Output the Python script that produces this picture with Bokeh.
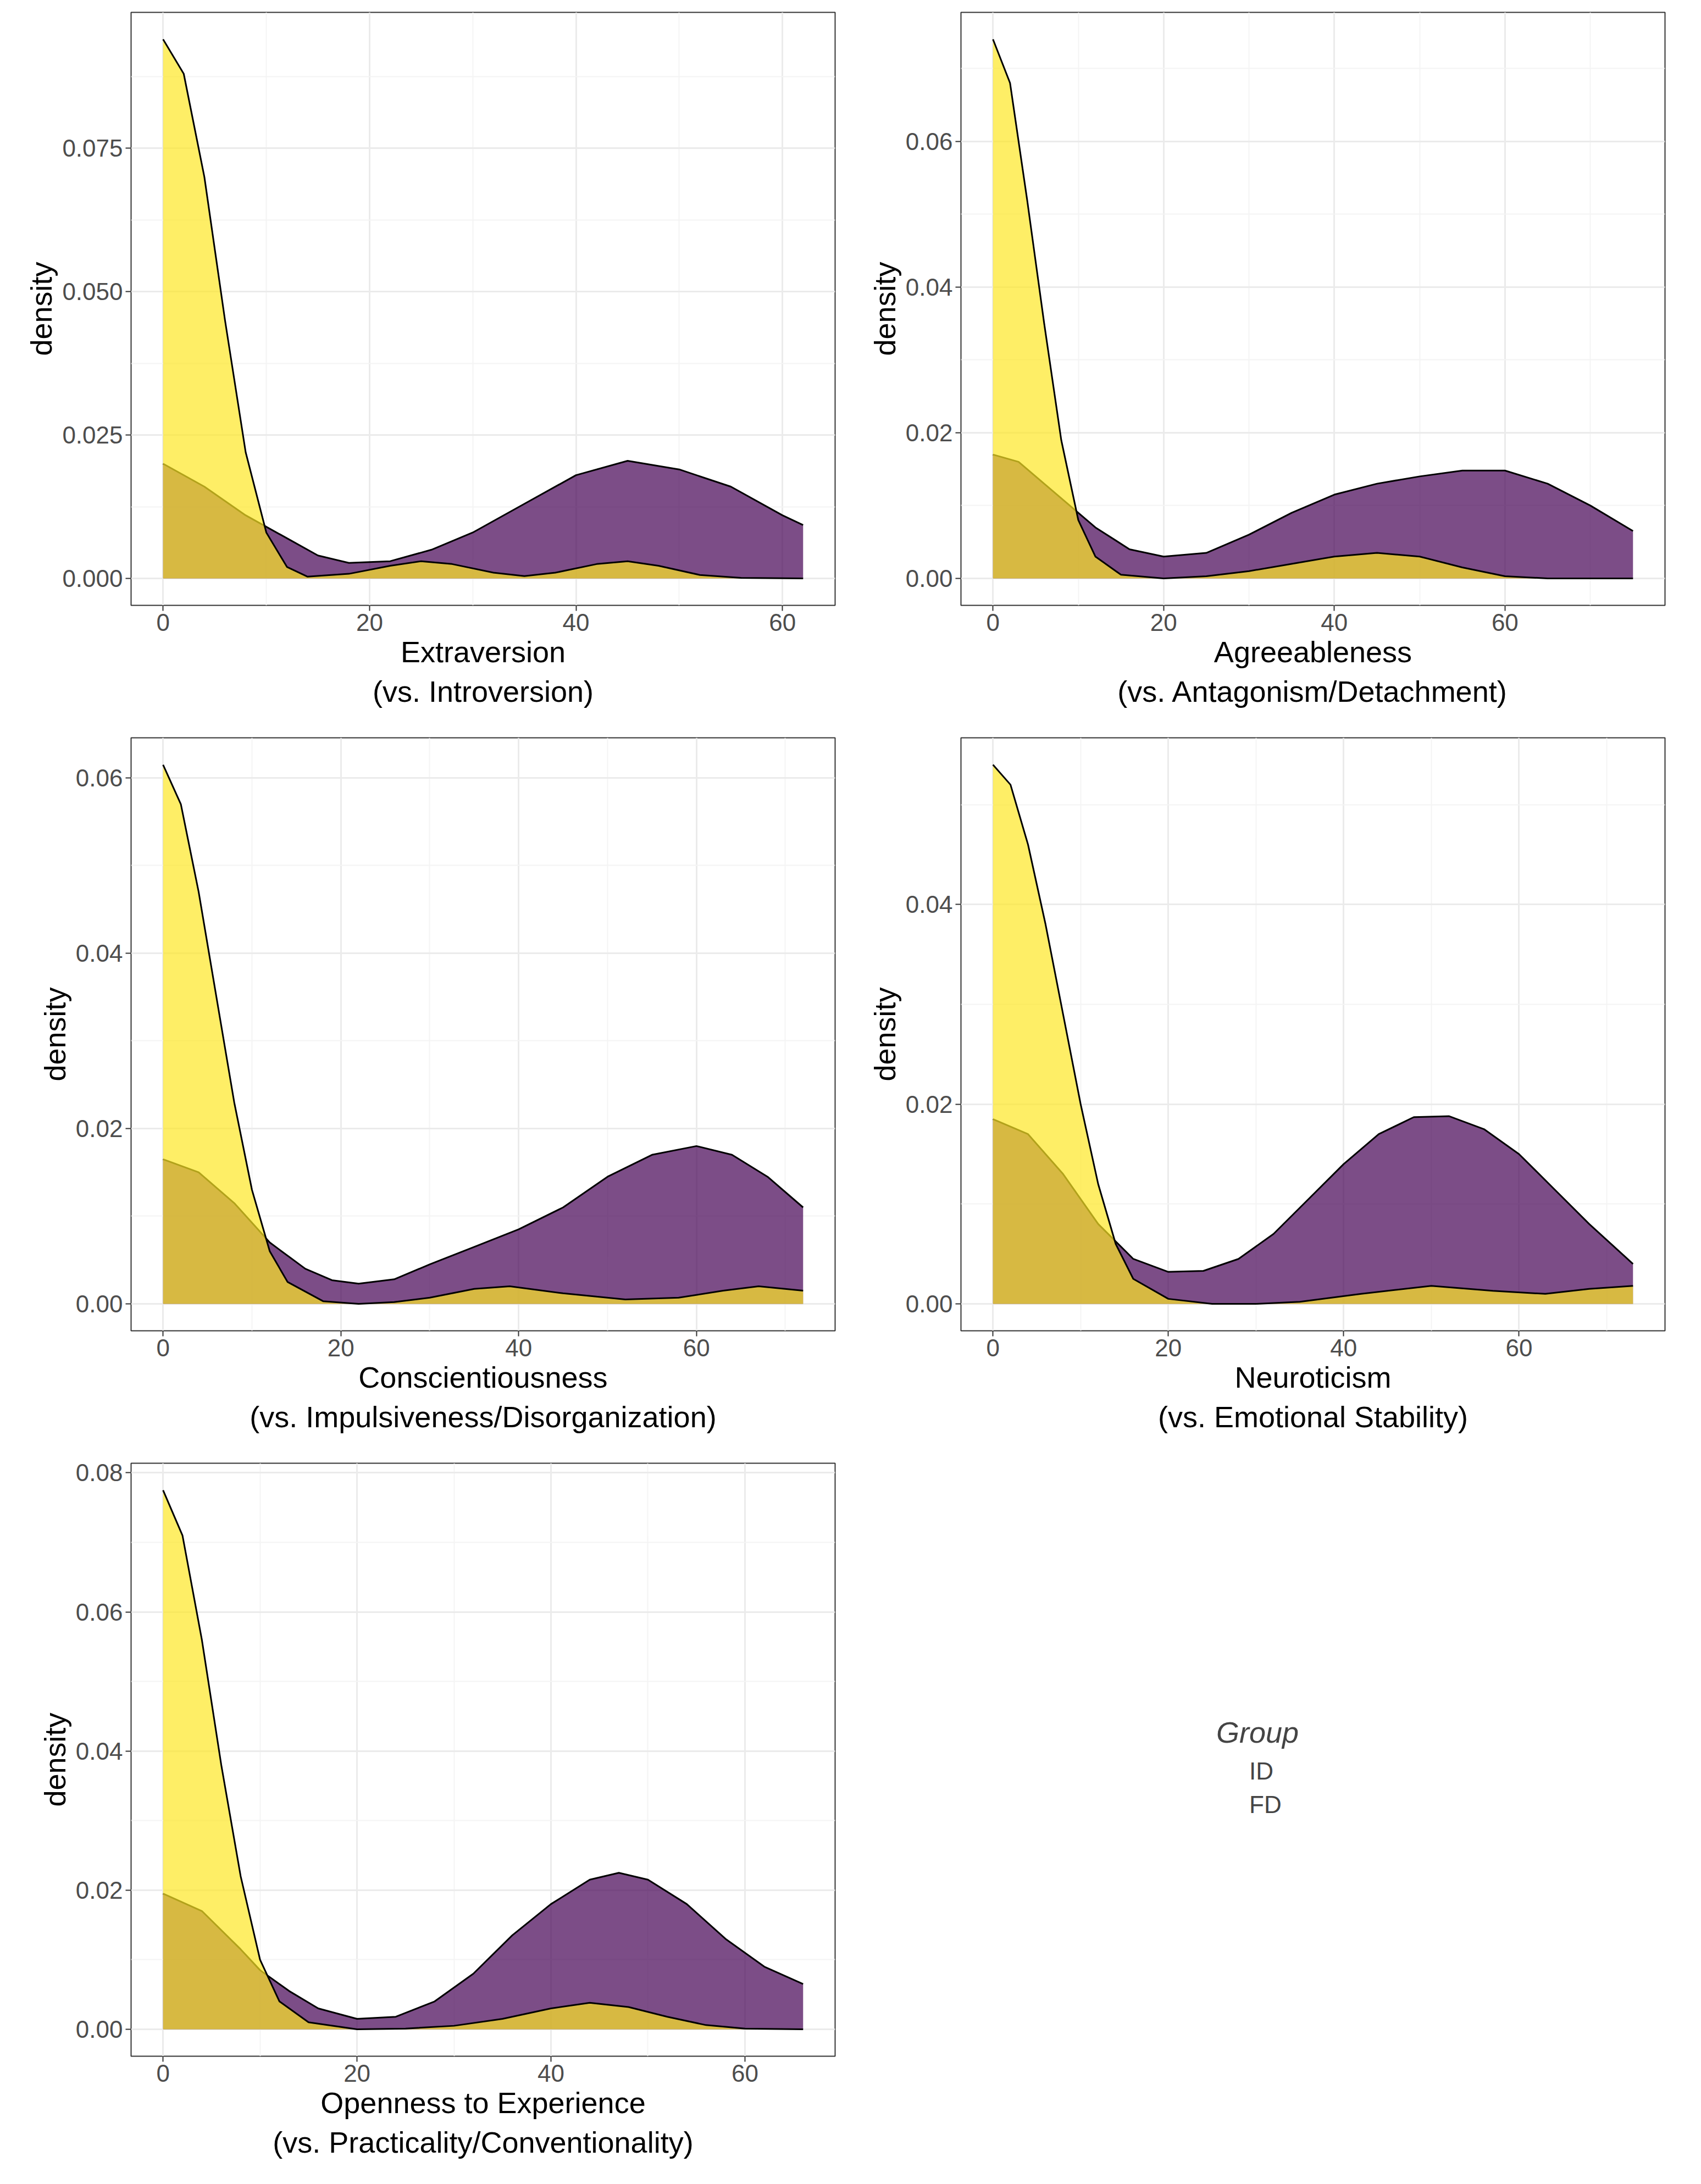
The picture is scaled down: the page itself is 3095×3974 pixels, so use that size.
from bokeh.plotting import figure
from bokeh.layouts import column, row
from bokeh.models import FixedTicker, Legend, LegendItem, Range1d
from bokeh.embed import file_html
from bokeh.resources import INLINE

titles = ["Extraversion\n(vs. Introversion)", "Agreeableness\n(vs. Antagonism/Detachment)",
          "Conscientiousness\n(vs. Impulsiveness/Disorganization)", "Neuroticism\n(vs. Emotional Stability)",
          "Openness to Experience\n(vs. Practicality/Conventionality)"]

ext_fd_x = [0, 2, 4, 6, 8, 10, 12, 14, 18, 22, 25, 28, 32, 35, 38, 42, 45, 48, 52, 56, 62]
ext_fd_y = [0.094, 0.088, 0.070, 0.045, 0.022, 0.008, 0.002, 0.0003, 0.0008, 0.0022, 0.003, 0.0025, 0.001, 0.0004, 0.001, 0.0025, 0.003, 0.0022, 0.0006, 0.0001, 0.0]
ext_id_x = [0, 4, 8, 12, 15, 18, 22, 26, 30, 35, 40, 45, 50, 55, 60, 62]
ext_id_y = [0.020, 0.016, 0.011, 0.007, 0.004, 0.0027, 0.003, 0.005, 0.008, 0.013, 0.018, 0.0205, 0.019, 0.016, 0.011, 0.0093]

agr_fd_x = [0, 2, 4, 6, 8, 10, 12, 15, 20, 25, 30, 35, 40, 45, 50, 55, 60, 65, 75]
agr_fd_y = [0.074, 0.068, 0.052, 0.035, 0.019, 0.008, 0.003, 0.0005, 0.0, 0.0003, 0.001, 0.002, 0.003, 0.0035, 0.003, 0.0015, 0.0003, 0.0, 0.0]
agr_id_x = [0, 3, 6, 9, 12, 16, 20, 25, 30, 35, 40, 45, 50, 55, 60, 65, 70, 75]
agr_id_y = [0.017, 0.016, 0.013, 0.010, 0.007, 0.004, 0.003, 0.0035, 0.006, 0.009, 0.0115, 0.013, 0.014, 0.0148, 0.0148, 0.013, 0.010, 0.0065]

con_fd_x = [0, 2, 4, 6, 8, 10, 12, 14, 18, 22, 26, 30, 35, 39, 45, 52, 58, 63, 67, 72]
con_fd_y = [0.0615, 0.057, 0.047, 0.035, 0.023, 0.013, 0.006, 0.0025, 0.0003, 0.0, 0.0002, 0.0007, 0.0017, 0.002, 0.0012, 0.0005, 0.0007, 0.0015, 0.002, 0.0015]
con_id_x = [0, 4, 8, 12, 16, 19, 22, 26, 30, 35, 40, 45, 50, 55, 60, 64, 68, 72]
con_id_y = [0.0165, 0.015, 0.0115, 0.007, 0.004, 0.0027, 0.0023, 0.0028, 0.0045, 0.0065, 0.0085, 0.011, 0.0145, 0.017, 0.018, 0.017, 0.0145, 0.011]

neu_fd_x = [0, 2, 4, 6, 8, 10, 12, 14, 16, 20, 25, 30, 35, 42, 50, 57, 63, 68, 73]
neu_fd_y = [0.054, 0.052, 0.046, 0.038, 0.029, 0.020, 0.012, 0.006, 0.0025, 0.0005, 0.0, 0.0, 0.0002, 0.001, 0.0018, 0.0013, 0.001, 0.0015, 0.0018]
neu_id_x = [0, 4, 8, 12, 16, 20, 24, 28, 32, 36, 40, 44, 48, 52, 56, 60, 64, 68, 73]
neu_id_y = [0.0185, 0.017, 0.013, 0.008, 0.0045, 0.0032, 0.0033, 0.0045, 0.007, 0.0105, 0.014, 0.017, 0.0187, 0.0188, 0.0175, 0.015, 0.0115, 0.008, 0.004]

ope_fd_x = [0, 2, 4, 6, 8, 10, 12, 15, 20, 25, 30, 35, 40, 44, 48, 52, 56, 60, 66]
ope_fd_y = [0.0775, 0.071, 0.056, 0.038, 0.022, 0.010, 0.004, 0.001, 0.0, 0.0001, 0.0005, 0.0015, 0.003, 0.0038, 0.0032, 0.0018, 0.0006, 0.0001, 0.0]
ope_id_x = [0, 4, 8, 10, 13, 16, 20, 24, 28, 32, 36, 40, 44, 47, 50, 54, 58, 62, 66]
ope_id_y = [0.0195, 0.017, 0.0115, 0.0085, 0.0055, 0.003, 0.0015, 0.0018, 0.004, 0.008, 0.0135, 0.018, 0.0215, 0.0225, 0.0215, 0.018, 0.013, 0.009, 0.0065]

y_ticks = [[0, 0.025, 0.05, 0.075], [0, 0.02, 0.04, 0.06], [0, 0.02, 0.04, 0.06], [0, 0.02, 0.04], [0, 0.02, 0.04, 0.06, 0.08]]
y_fmt = ["%.3f", "%.2f", "%.2f", "%.2f", "%.2f"]
x_ticks = [0, 20, 40, 60]

data = [(ext_fd_x, ext_fd_y, ext_id_x, ext_id_y), (agr_fd_x, agr_fd_y, agr_id_x, agr_id_y),
        (con_fd_x, con_fd_y, con_id_x, con_id_y), (neu_fd_x, neu_fd_y, neu_id_x, neu_id_y),
        (ope_fd_x, ope_fd_y, ope_id_x, ope_id_y)]

ID_COL = "#440154"
FD_COL = "#FDE725"
FONT = "Liberation Sans"

def style(p):
    p.outline_line_color = "#333333"
    p.outline_line_width = 2
    p.background_fill_color = "white"
    p.border_fill_color = "white"
    for g in (p.xgrid[0], p.ygrid[0]):
        g.grid_line_color = "#ebebeb"
        g.grid_line_width = 3
        g.minor_grid_line_color = "#f4f4f4"
        g.minor_grid_line_width = 2
    for ax in (p.xaxis[0], p.yaxis[0]):
        ax.axis_line_color = None
        ax.major_tick_line_color = "#333333"
        ax.major_tick_line_width = 2
        ax.major_tick_out = 10
        ax.major_tick_in = 0
        ax.minor_tick_line_color = None
        ax.major_label_text_font = FONT
        ax.major_label_text_font_size = "44px"
        ax.major_label_text_color = "#4d4d4d"
        ax.axis_label_text_font = FONT
        ax.axis_label_text_font_size = "54px"
        ax.axis_label_text_font_style = "normal"
        ax.axis_label_text_color = "black"

figs = []
for i, (fx, fy, ix, iy) in enumerate(data):
    col = i % 2
    xmax = max(fx[-1], ix[-1])
    ymax = max(max(fy), max(iy))
    p = figure(output_backend="svg", toolbar_location=None,
               frame_width=1281, frame_height=1079,
               min_border_left=238 if col == 0 else 211,
               min_border_right=18 if col == 0 else 20,
               min_border_top=22 if i < 2 else 20, min_border_bottom=221,
               x_range=Range1d(-0.05 * xmax, xmax * 1.05),
               y_range=Range1d(-0.05 * ymax, ymax * 1.05))
    p.varea(x=ix, y1=[0] * len(ix), y2=iy, fill_color=ID_COL, fill_alpha=0.7)
    p.line(x=ix, y=iy, line_color="black", line_width=3)
    p.varea(x=fx, y1=[0] * len(fx), y2=fy, fill_color=FD_COL, fill_alpha=0.7)
    p.line(x=fx, y=fy, line_color="black", line_width=3)
    yt = y_ticks[i]
    step = yt[1] - yt[0]
    p.yaxis.ticker = FixedTicker(ticks=yt, minor_ticks=[t + step / 2 for t in yt])
    p.yaxis.major_label_overrides = {t: y_fmt[i] % t for t in yt}
    p.xaxis.ticker = FixedTicker(ticks=x_ticks, minor_ticks=[10, 30, 50, 70])
    p.xaxis.axis_label = titles[i]
    p.yaxis.axis_label = "density"
    style(p)
    figs.append(p)

# legend panel
lp = figure(output_backend="svg", toolbar_location=None, frame_width=1281, frame_height=1079,
            min_border_left=211, min_border_right=20, min_border_top=20, min_border_bottom=221,
            x_range=Range1d(0, 1), y_range=Range1d(0, 1))
lp.axis.visible = False
lp.grid.visible = False
lp.outline_line_color = None
r1 = lp.quad(left=[], right=[], top=[], bottom=[], fill_color=ID_COL, fill_alpha=0.7, line_color="black", line_width=3)
r2 = lp.quad(left=[], right=[], top=[], bottom=[], fill_color=FD_COL, fill_alpha=0.7, line_color="black", line_width=3)
leg = Legend(items=[LegendItem(label="ID", renderers=[r1]), LegendItem(label="FD", renderers=[r2])],
             location=(465, 430), title="Group", title_text_font=FONT, title_text_font_size="54px",
             label_text_font=FONT, label_text_font_size="44px", glyph_width=55, glyph_height=55,
             label_height=55, spacing=6, padding=0, border_line_color=None, background_fill_alpha=0,
             title_standoff=12)
lp.add_layout(leg)

layout = column(row(figs[0], figs[1]), row(figs[2], figs[3]), row(figs[4], lp))
open("out.html", "w").write(file_html(layout, INLINE))
